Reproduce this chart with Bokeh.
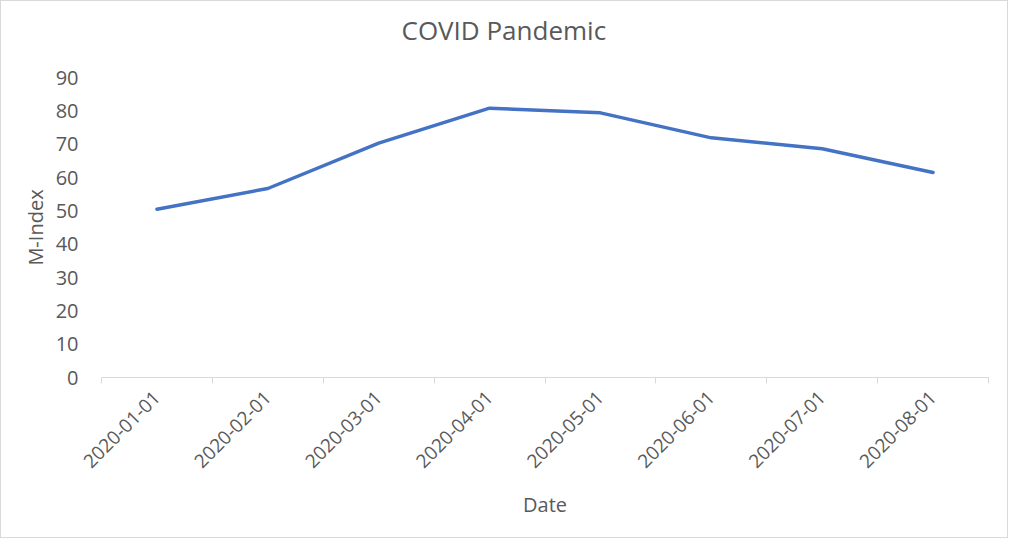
import math
from bokeh.plotting import figure
from bokeh.models import Range1d, FixedTicker, ColumnDataSource, Title
from bokeh.embed import file_html
from bokeh.resources import INLINE

dates = ["2020-01-01", "2020-02-01", "2020-03-01", "2020-04-01",
         "2020-05-01", "2020-06-01", "2020-07-01", "2020-08-01"]
m_index = [50.5, 56.7, 70.3, 80.8, 79.4, 71.9, 68.6, 61.5]
y_ticks = [0, 10, 20, 30, 40, 50, 60, 70, 80, 90]
title_text = "COVID Pandemic"

FONT = "Open Sans"
GREY_TEXT = "#595959"

xs = [i + 0.5 for i in range(len(dates))]
src = ColumnDataSource(dict(x=xs, y=m_index))

p = figure(width=1008, height=538, output_backend="svg", toolbar_location=None,
           x_range=Range1d(0, len(dates)), y_range=Range1d(0, 90),
           min_border_left=100, min_border_right=21, min_border_top=76,
           min_border_bottom=162)

p.title.text = title_text
p.title.align = "left"
p.title.offset = 300
p.title.vertical_align = "bottom"
p.title.standoff = 0
p.title.text_font = FONT
p.title.text_font_size = "26px"
p.title.text_font_style = "normal"
p.title.text_color = GREY_TEXT

# blank spacer between the title and the plot area
spacer = Title(text=" ", text_font_size="2px", standoff=26, text_color="white")
p.add_layout(spacer, "above")

p.line("x", "y", source=src, line_color="#4472C4", line_width=3.5,
       line_cap="round", line_join="round")

p.outline_line_color = None
p.xgrid.grid_line_color = None
p.ygrid.grid_line_color = None
p.background_fill_color = "white"
p.border_fill_color = "white"

# x axis: labels at category centres, tick marks at category boundaries
xa = p.xaxis[0]
xa.ticker = FixedTicker(ticks=xs, minor_ticks=list(range(len(dates) + 1)))
xa.major_label_overrides = {x: d for x, d in zip(xs, dates)}
xa.major_label_orientation = math.pi / 4
xa.major_tick_line_color = None
xa.major_tick_out = 0
xa.major_tick_in = 0
xa.minor_tick_out = 6
xa.minor_tick_in = 0
xa.minor_tick_line_color = "#d9d9d9"
xa.axis_line_color = "#d9d9d9"
xa.major_label_text_font = FONT
xa.major_label_text_font_size = "19px"
xa.major_label_text_color = GREY_TEXT
xa.major_label_standoff = 11
xa.axis_label = "Date"
xa.axis_label_text_font = FONT
xa.axis_label_text_font_size = "20px"
xa.axis_label_text_font_style = "normal"
xa.axis_label_text_color = GREY_TEXT
xa.axis_label_standoff = 14

ya = p.yaxis[0]
ya.ticker = FixedTicker(ticks=y_ticks, minor_ticks=[])
ya.axis_line_color = None
ya.major_tick_line_color = None
ya.minor_tick_line_color = None
ya.major_label_text_font = FONT
ya.major_label_text_font_size = "20px"
ya.major_label_text_color = GREY_TEXT
ya.major_label_standoff = 17
ya.axis_label = "M-Index"
ya.axis_label_text_font = FONT
ya.axis_label_text_font_size = "20px"
ya.axis_label_text_font_style = "normal"
ya.axis_label_text_color = GREY_TEXT
ya.axis_label_standoff = 4

p.styles = {"border": "1px solid #d9d9d9"}

open("out.html", "w").write(file_html(p, INLINE))
